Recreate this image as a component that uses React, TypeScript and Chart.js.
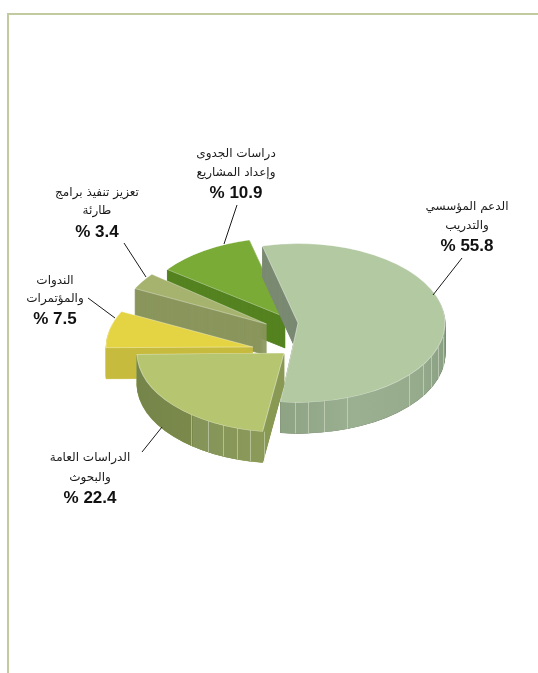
import React, { useEffect, useRef } from "react";
import { Chart, ArcElement, PieController } from "chart.js";

Chart.register(ArcElement, PieController);

const categories = [
  ["الدعم المؤسسي", "والتدريب"],
  ["الدراسات العامة", "والبحوث"],
  ["الندوات", "والمؤتمرات"],
  ["تعزيز تنفيذ برامج", "طارئة"],
  ["دراسات الجدوى", "وإعداد المشاريع"],
];
const shares = [55.8, 22.4, 7.5, 3.4, 10.9];

const topColors = ["#b2c9a2", "#b6c56f", "#e4d444", "#a5b36e", "#7aab37"];
const wallColors = ["#7b8b72", "#8a9a55", "#c7bb3e", "#8a965c", "#558321"];
const rimStops: [number, string][][] = [
  [[0.45, "#8fa485"], [0.67, "#9bb091"], [0.9, "#96ab8c"], [1, "#8aa083"]],
  [[0, "#75854a"], [0.186, "#7b8a4b"], [0.188, "#84945a"], [0.44, "#8c9b58"]],
  [],
  [],
  [],
];
const facets = [
  [91, 86, 80, 70.5, 41, 32, 25, 18, 10],
  [129, 121, 114.5, 108.6, 103.4, 97.8],
  [],
  [],
  [],
];
const sliceShift = [
  [1, 0],
  [-13, 30],
  [-44, 24],
  [-30.5, 1],
  [-12, -6],
];
const sliceTurn = [-2, -0.5, 0, 0, -2];
const drawOrder = [4, 3, 2, 0, 1];
const leaders = [
  [433, 295, 462, 258],
  [162, 427, 142, 452],
  [115, 318, 88, 298],
  [146, 277, 124, 243],
  [224, 244, 237, 205],
];
const labelAnchors = [
  [467, 207, 226, 246],
  [90, 458, 478, 498],
  [55, 281, 299, 319],
  [97, 193, 211, 232],
  [236, 154, 173, 193],
];

const SQUASH = 0.54;
const DEPTH = 31;
const RADIUS = 147;
const CX = 297;
const CY = 323;

const pie3d = {
  id: "pie3d",
  beforeDatasetsDraw(chart: any) {
    const ctx: CanvasRenderingContext2D = chart.ctx;
    const arcs = chart.getDatasetMeta(0).data;
    const paint = (arc: any, i: number, dy: number, over: any) => {
      const p = Object.create(arc);
      Object.assign(p, over.geom || {});
      p.options = {
        ...arc.options,
        borderWidth: over.line ? 1 : 0,
        borderColor: over.line || "transparent",
        backgroundColor: over.fill,
      };
      const cx = arc.x;
      const cy = arc.y;
      ctx.save();
      ctx.translate(cx + sliceShift[i][0], cy + sliceShift[i][1] + dy);
      ctx.scale(1, SQUASH);
      ctx.rotate((sliceTurn[i] * Math.PI) / 180);
      ctx.translate(-cx, -cy);
      ArcElement.prototype.draw.call(p, ctx);
      ctx.restore();
    };
    drawOrder.forEach((i) => {
      const arc = arcs[i];
      for (let d = DEPTH; d >= 1; d--) paint(arc, i, d, { fill: wallColors[i], line: wallColors[i] });
      if (rimStops[i].length) {
        const g = ctx.createLinearGradient(arc.x - RADIUS, 0, arc.x + RADIUS, 0);
        rimStops[i].forEach(([s, c]) => g.addColorStop(s, c));
        let a0 = arc.startAngle;
        let a1 = arc.endAngle;
        const turn = Math.PI * 2;
        while (a1 > turn + Math.PI) { a0 -= turn; a1 -= turn; }
        while (a1 < 0) { a0 += turn; a1 += turn; }
        const base = a1 > turn ? turn : 0;
        a0 = Math.max(a0, base);
        a1 = Math.min(a1, base + Math.PI);
        const geom = {
          startAngle: a0,
          endAngle: a1,
          circumference: a1 - a0,
          innerRadius: arc.outerRadius - 5,
        };
        for (let d = DEPTH; d >= 1; d--) paint(arc, i, d, { fill: g, geom });
        ctx.save();
        ctx.strokeStyle = "rgba(235,240,225,0.45)";
        ctx.lineWidth = 1;
        facets[i].forEach((deg) => {
          const r = (deg * Math.PI) / 180;
          const x = Math.round(arc.x + sliceShift[i][0] + arc.outerRadius * Math.cos(r)) + 0.5;
          const y = arc.y + sliceShift[i][1] + arc.outerRadius * Math.sin(r) * SQUASH;
          ctx.beginPath();
          ctx.moveTo(x, y);
          ctx.lineTo(x, y + DEPTH);
          ctx.stroke();
        });
        ctx.restore();
      }
      paint(arc, i, 0, { fill: topColors[i], line: "rgba(255,255,255,0.45)" });
    });

    ctx.save();
    ctx.strokeStyle = "#1a1a1a";
    ctx.lineWidth = 1;
    leaders.forEach(([x0, y0, x1, y1]) => {
      ctx.beginPath();
      ctx.moveTo(x0, y0);
      ctx.lineTo(x1, y1);
      ctx.stroke();
    });
    ctx.textAlign = "center";
    ctx.textBaseline = "middle";
    categories.forEach((lines, i) => {
      const [x, y0, y1, y2] = labelAnchors[i];
      ctx.fillStyle = "#1a1a1a";
      ctx.font = '12px "DejaVu Sans"';
      ctx.fillText(lines[0], x, y0);
      ctx.fillText(lines[1], x, y1);
      ctx.fillStyle = "#111111";
      ctx.font = 'bold 17px "Liberation Sans"';
      ctx.fillText(`% ${shares[i].toFixed(1)}`, x, y2);
    });
    ctx.restore();
    return false;
  },
};

export default function App() {
  const ref = useRef<HTMLCanvasElement>(null);
  useEffect(() => {
    const chart = new Chart(ref.current!, {
      type: "pie",
      data: {
        labels: categories.map((c) => c.join(" ")),
        datasets: [{ data: shares, backgroundColor: topColors, borderWidth: 0 }],
      },
      options: {
        animation: false,
        responsive: false,
        rotation: 348,
        events: [],
        layout: {
          padding: {
            left: CX - RADIUS,
            right: 538 - CX - RADIUS,
            top: CY - RADIUS,
            bottom: 673 - CY - RADIUS,
          },
        },
        plugins: { legend: { display: false }, tooltip: { enabled: false } },
      },
      plugins: [pie3d],
    } as any);
    return () => chart.destroy();
  }, []);
  return (
    <div style={{ position: "absolute", left: 0, top: 0, width: 538, height: 673, overflow: "hidden", background: "#fff" }}>
      <div
        style={{
          position: "absolute",
          left: 7,
          top: 13,
          right: 0,
          bottom: 0,
          borderTop: "2px solid #c2cb9f",
          borderLeft: "2px solid #c2cb9f",
        }}
      />
      <canvas ref={ref} width={538} height={673} style={{ position: "absolute", left: 0, top: 0, width: 538, height: 673 }} />
    </div>
  );
}
